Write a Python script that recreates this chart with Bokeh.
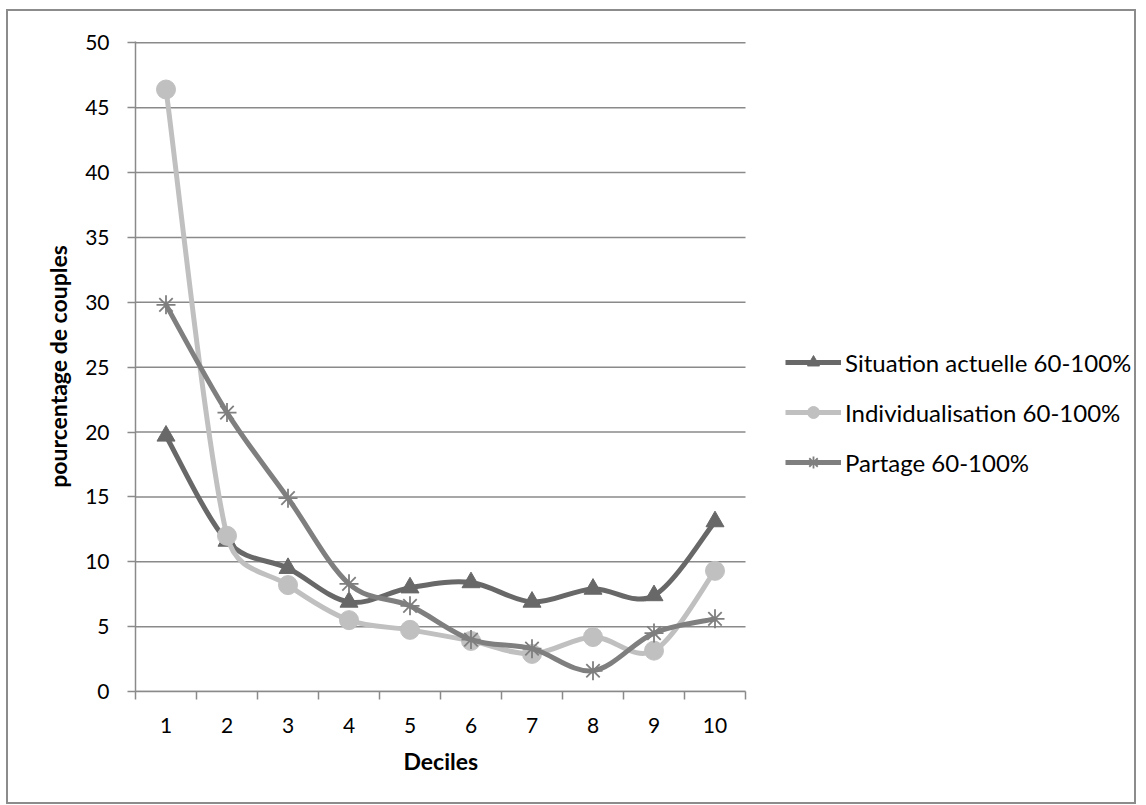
from bokeh.plotting import figure
from bokeh.models import FixedTicker, Legend, LegendItem, ColumnDataSource, Title
from bokeh.embed import file_html
from bokeh.resources import INLINE

# Deciles and series (percentage of couples)
deciles = [1, 2, 3, 4, 5, 6, 7, 8, 9, 10]
situation_actuelle = [19.7, 11.6, 9.5, 6.9, 8.0, 8.4, 6.9, 7.9, 7.4, 13.1]
individualisation = [46.4, 12.0, 8.2, 5.5, 4.75, 3.9, 2.9, 4.2, 3.15, 9.3]
partage = [29.8, 21.5, 14.9, 8.3, 6.6, 4.0, 3.3, 1.6, 4.5, 5.6]

y_ticks = [0, 5, 10, 15, 20, 25, 30, 35, 40, 45, 50]

FONT = "Lato"
AXIS_GREY = "#8a8a8a"

# canvas layout: the plotting frame also hosts the legend on its right side
FIG_W, FIG_H = 1130, 795
LEFT, TOP, BOTTOM = 127, 30, 115
FRAME_W, FRAME_H = FIG_W - LEFT, FIG_H - TOP - BOTTOM
X_LO, X_HI = deciles[0] - 0.5, deciles[-1] + 0.5
PX_X = 61.0                       # pixels per decile
Y_SPAN = 50.1
PX_Y = FRAME_H / Y_SPAN


def smooth_segments(xs, ys):
    """Cubic Bezier segments through the points, spreadsheet-style smoothing:
    tangent from neighbours, arm length capped at half of each segment
    (lengths measured in screen pixels)."""
    n = len(xs)

    def dist(ax, ay, bx, by):
        return (((bx - ax) * PX_X) ** 2 + ((by - ay) * PX_Y) ** 2) ** 0.5

    def arm(i, j):
        # control offset at point i, pointing toward neighbour j
        xp, yp = (xs[i - 1], ys[i - 1]) if i > 0 else (xs[i], ys[i])
        xn, yn = (xs[i + 1], ys[i + 1]) if i + 1 < n else (xs[i], ys[i])
        tx, ty = (xn - xp) / 6.0, (yn - yp) / 6.0
        tlen = dist(0, 0, tx, ty)
        half = dist(xs[i], ys[i], xs[j], ys[j]) / 2.0
        k = 1.0 if tlen <= half or tlen == 0 else half / tlen
        sgn = 1.0 if j > i else -1.0
        return sgn * tx * k, sgn * ty * k

    seg = dict(x0=[], y0=[], x1=[], y1=[], cx0=[], cy0=[], cx1=[], cy1=[])
    for i in range(n - 1):
        ax0, ay0 = arm(i, i + 1)
        ax1, ay1 = arm(i + 1, i)
        seg["x0"].append(xs[i]); seg["y0"].append(ys[i])
        seg["x1"].append(xs[i + 1]); seg["y1"].append(ys[i + 1])
        seg["cx0"].append(xs[i] + ax0); seg["cy0"].append(ys[i] + ay0)
        seg["cx1"].append(xs[i + 1] + ax1); seg["cy1"].append(ys[i + 1] + ay1)
    return ColumnDataSource(seg)


p = figure(width=FIG_W, height=FIG_H, output_backend="svg",
           toolbar_location=None,
           x_range=(X_LO, X_LO + FRAME_W / PX_X), y_range=(0, Y_SPAN),
           min_border_left=LEFT, min_border_right=0, min_border_top=TOP,
           min_border_bottom=BOTTOM)
# grey border around the whole chart area
p.styles = {"border": "2px solid #8c8c8c", "margin-left": "6px",
            "margin-top": "9px"}
p.outline_line_color = None
p.background_fill_color = "white"
p.border_fill_color = "white"

# horizontal gridlines limited to the decile span
p.segment(x0=[X_LO] * len(y_ticks), y0=y_ticks,
          x1=[X_HI] * len(y_ticks), y1=y_ticks,
          line_color=AXIS_GREY, line_width=1.5)
p.xgrid.grid_line_color = None
p.ygrid.grid_line_color = None

# axes
p.xaxis.bounds = (X_LO, X_HI)
p.xaxis.ticker = FixedTicker(ticks=deciles,
                             minor_ticks=[d - 0.5 for d in deciles] + [X_HI])
p.xaxis.major_tick_out = 0
p.xaxis.major_tick_in = 0
p.xaxis.minor_tick_out = 8
p.xaxis.minor_tick_in = 0
p.xaxis.minor_tick_line_color = AXIS_GREY
p.xaxis.minor_tick_line_width = 1.5
p.xaxis.major_label_standoff = 18

p.yaxis.ticker = FixedTicker(ticks=y_ticks)
p.yaxis.major_tick_out = 8
p.yaxis.major_tick_in = 0
p.yaxis.minor_tick_line_color = None
p.yaxis.axis_label = "pourcentage de couples"
p.yaxis.major_label_standoff = 18

for ax in (p.xaxis, p.yaxis):
    ax.axis_line_color = AXIS_GREY
    ax.axis_line_width = 1.5
    ax.major_tick_line_color = AXIS_GREY
    ax.major_tick_line_width = 1.5
    ax.major_label_text_font = FONT
    ax.major_label_text_font_size = "21px"
    ax.major_label_text_color = "black"
    ax.axis_label_text_font = FONT
    ax.axis_label_text_font_size = "23px"
    ax.axis_label_text_font_style = "bold"
    ax.axis_label_text_color = "black"
p.yaxis.axis_label_standoff = 10

# x-axis title, centred under the deciles rather than the whole frame
x_title = Title(text="Deciles", align="left",
                offset=(X_HI - X_LO) * PX_X / 2 - 37,
                text_font=FONT, text_font_size="23px",
                text_font_style="bold", text_color="black", standoff=19)
p.add_layout(x_title, "below")

series = [
    ("Situation actuelle 60-100%", situation_actuelle, "#686868", "triangle", 18),
    ("Individualisation 60-100%", individualisation, "#c0c0c0", "circle", 19),
    ("Partage 60-100%", partage, "#7f7f7f", "asterisk", 19),
]

items = []
for label, vals, color, marker, size in series:
    src = smooth_segments(deciles, vals)
    p.bezier("x0", "y0", "x1", "y1", "cx0", "cy0", "cx1", "cy1",
             source=src, line_color=color, line_width=5)
    if marker == "asterisk":
        r_mark = p.scatter(deciles, vals, marker=marker, size=size,
                           line_color=color, line_width=1.8)
    else:
        r_mark = p.scatter(deciles, vals, marker=marker, size=size,
                           fill_color=color, line_color=color)
    # short line sample for the legend entry
    r_leg = p.line([deciles[0], deciles[0]], [vals[0], vals[0]],
                   line_color=color, line_width=5)
    items.append(LegendItem(label=label, renderers=[r_leg, r_mark]))

legend = Legend(items=items, location=(650, 214), orientation="vertical",
                label_text_font=FONT, label_text_font_size="24px",
                label_text_color="black", glyph_width=56, glyph_height=30,
                spacing=20, padding=0, margin=0, label_standoff=4,
                border_line_color=None, background_fill_alpha=0)
p.add_layout(legend)

open("out.html", "w").write(file_html(p, INLINE))
